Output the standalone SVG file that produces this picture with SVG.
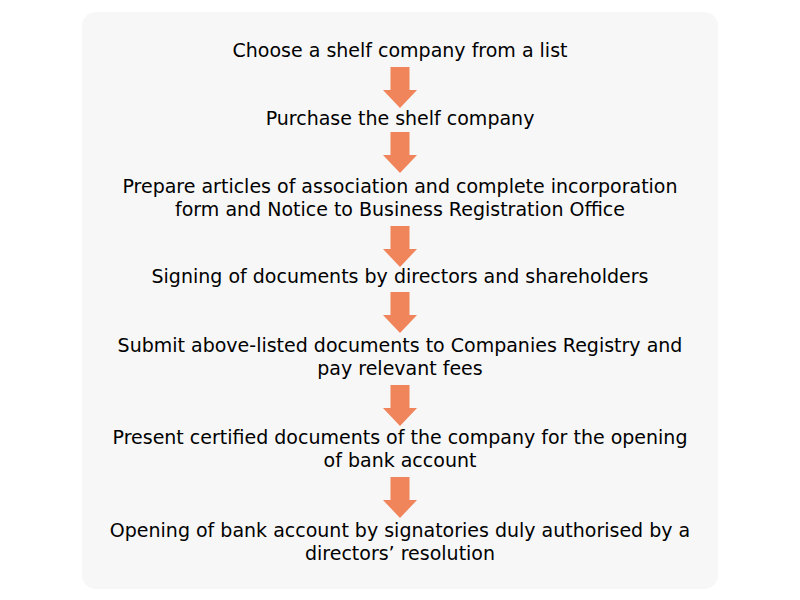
<svg xmlns="http://www.w3.org/2000/svg" width="800" height="600" viewBox="0 0 800 600">
<defs>
<style>
.t{font-family:"DejaVu Sans","Verdana",sans-serif;font-size:19px;fill:#000;text-anchor:middle}
.a{fill:#F0845A}
</style>
<path id="arr" class="a" d="M-9.5,0 H9.5 V23 H17 L0,41 L-17,23 H-9.5 Z"/>
</defs>
<rect x="82" y="12" width="636" height="577" rx="14" ry="14" fill="#F7F7F7"/>
<g id="connectors">
<use href="#arr" x="400" y="67"/>
<use href="#arr" x="400" y="132"/>
<use href="#arr" x="400" y="226"/>
<use href="#arr" x="400" y="292"/>
<use href="#arr" x="400" y="385"/>
<use href="#arr" x="400" y="477"/>
</g>
<g id="n1"><text class="t" x="400" y="57">Choose a shelf company from a list</text></g>
<g id="n2"><text class="t" x="400" y="125">Purchase the shelf company</text></g>
<g id="n3"><text class="t" x="400" y="193">Prepare articles of association and complete incorporation</text><text class="t" x="400" y="216">form and Notice to Business Registration Office</text></g>
<g id="n4"><text class="t" x="400" y="283">Signing of documents by directors and shareholders</text></g>
<g id="n5"><text class="t" x="400" y="352">Submit above-listed documents to Companies Registry and</text><text class="t" x="400" y="375">pay relevant fees</text></g>
<g id="n6"><text class="t" x="400" y="444">Present certified documents of the company for the opening</text><text class="t" x="400" y="467">of bank account</text></g>
<g id="n7"><text class="t" x="400" y="537">Opening of bank account by signatories duly authorised by a</text><text class="t" x="400" y="560">directors’ resolution</text></g>
</svg>
